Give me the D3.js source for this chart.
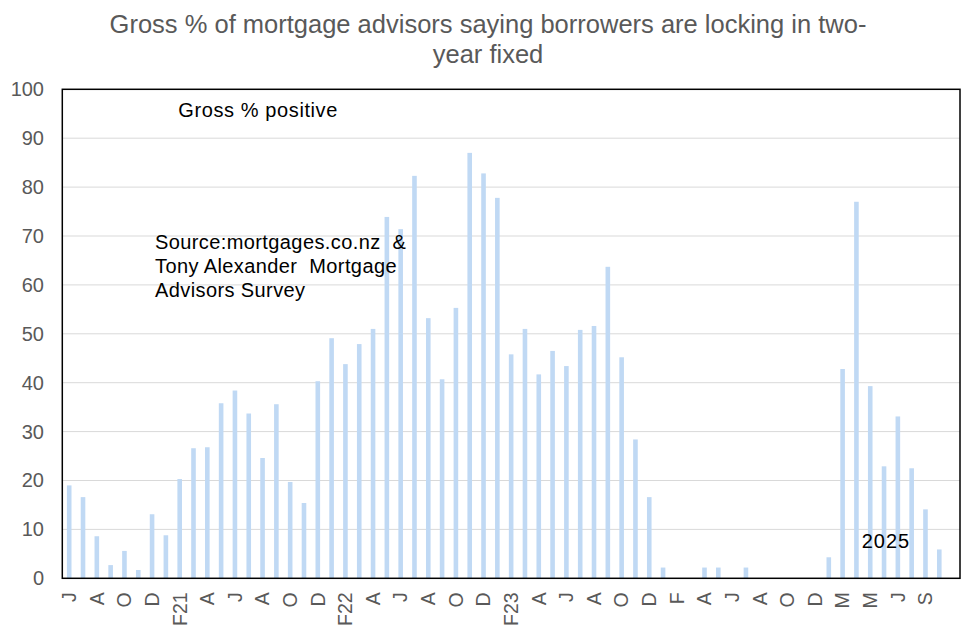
<!DOCTYPE html>
<html>
<head>
<meta charset="utf-8">
<script src="https://cdn.jsdelivr.net/npm/d3@7"></script>
<style>
  html, body { margin: 0; padding: 0; background: #fff; }
  svg { display: block; font-family: "Liberation Sans", Arial, sans-serif; }
</style>
</head>
<body>
<svg id="chart" width="976" height="637"></svg>
<script>
// Month labels (Jun 2020 .. Oct 2025, one trailing empty slot)
const months = [
  "J","J","A","S","O","N","D","J","F21","M","A","M","J","J","A","S","O","N","D","J",
  "F22","M","A","M","J","J","A","S","O","N","D","J","F23","M","A","M","J","J","A","S",
  "O","N","D","J","F","M","A","M","J","J","A","S","O","N","D","F","M","A","M","J",
  "J","A","S","O",""
];
// Gross % positive (two-year fixed)
const values = [
  19.0,16.6,8.6,2.7,5.6,1.7,13.1,8.8,20.3,26.6,
  26.8,35.8,38.4,33.7,24.6,35.6,19.7,15.4,40.3,49.1,
  43.8,47.9,51.0,73.9,71.4,82.3,53.2,40.7,55.3,87.0,
  82.8,77.8,45.8,51.0,41.7,46.5,43.4,50.8,51.6,63.7,
  45.2,28.4,16.6,2.2,0,0,2.2,2.2,0,2.2,
  0,0,0,0,0,4.3,42.8,77.0,39.3,22.9,
  33.1,22.5,14.1,5.9,null
];
const yTicks = [0,10,20,30,40,50,60,70,80,90,100];
const titleLines = ["Gross % of mortgage advisors saying borrowers are locking in two-", "year fixed"];
const sourceLines = ["Source:mortgages.co.nz\u00a0 &", "Tony Alexander\u00a0 Mortgage", "Advisors Survey"];

const svg = d3.select("#chart");
const L = 62.3, R = 960, T = 89.3, B = 578.3;

const x = d3.scaleBand().domain(d3.range(months.length)).range([L, R]).paddingInner(0).paddingOuter(0);
const y = d3.scaleLinear().domain([0, 100]).range([B, T]);

// gridlines
svg.append("g").selectAll("line").data(yTicks.filter(d => d > 0 && d < 100)).join("line")
  .attr("x1", L).attr("x2", R).attr("y1", d => y(d)).attr("y2", d => y(d))
  .attr("stroke", "#d9d9d9").attr("stroke-width", 1);

// bars
const bw = x.bandwidth() / 3;
svg.append("g").selectAll("rect").data(values.map((v, i) => ({v, i})).filter(d => d.v !== null && d.v > 0)).join("rect")
  .attr("x", d => x(d.i) + x.bandwidth() / 2 - bw / 2)
  .attr("width", bw)
  .attr("y", d => y(d.v))
  .attr("height", d => y(0) - y(d.v))
  .attr("fill", "#c0d9f4");

// plot border
svg.append("rect").attr("x", L).attr("y", T).attr("width", R - L).attr("height", B - T)
  .attr("fill", "none").attr("stroke", "#000").attr("stroke-width", 1.5);

// y axis labels
const yAxis = d3.axisLeft(y).tickValues(yTicks).tickSize(0).tickPadding(0);
const gy = svg.append("g").attr("transform", `translate(44,0)`).call(yAxis);
gy.select(".domain").remove();
gy.selectAll("text").attr("font-size", 20).attr("fill", "#595959")
  .attr("font-family", "Liberation Sans, Arial, sans-serif");

// x axis labels
const xAxis = d3.axisBottom(x).tickSize(0).tickFormat(i => i % 2 === 0 ? months[i] : "");
const gx = svg.append("g").attr("transform", `translate(0,${B})`).call(xAxis);
gx.select(".domain").remove();
gx.selectAll("text")
  .attr("font-size", 19.5).attr("fill", "#595959")
  .attr("font-family", "Liberation Sans, Arial, sans-serif")
  .attr("text-anchor", "end")
  .attr("transform", "rotate(-90)")
  .attr("x", -14).attr("y", 0).attr("dy", "0.35em");

// title
svg.append("g").selectAll("text").data(titleLines).join("text")
  .attr("x", 488).attr("y", (d, i) => 33 + i * 29.7)
  .attr("text-anchor", "middle").attr("font-size", 25.5).attr("fill", "#595959")
  .text(d => d);

// annotations
const ann = svg.append("g").attr("font-size", 20).attr("fill", "#000").attr("letter-spacing", 0.6);
ann.append("text").attr("x", 178.3).attr("y", 117.3).text("Gross % positive");
ann.append("g").selectAll("text").data(sourceLines).join("text")
  .attr("x", 155).attr("y", (d, i) => 248.5 + i * 24.4)
  .attr("letter-spacing", 0.4)
  .text(d => d);
ann.append("text").attr("x", 861.7).attr("y", 548.3).attr("letter-spacing", 1).text("2025");
</script>
</body>
</html>
